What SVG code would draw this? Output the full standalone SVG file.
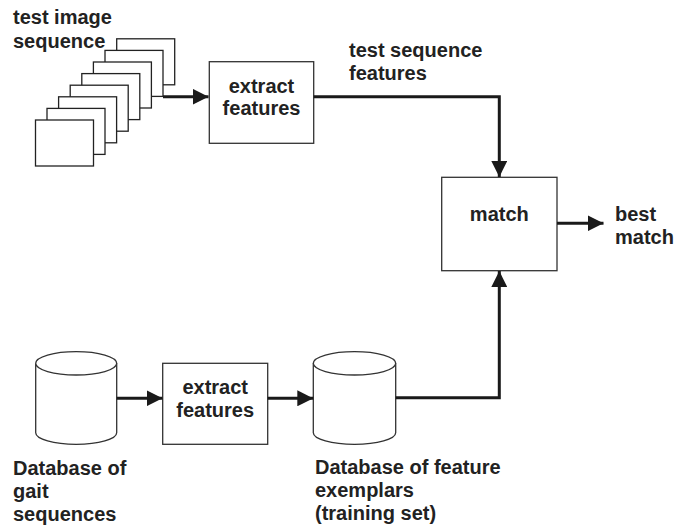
<svg xmlns="http://www.w3.org/2000/svg" width="677" height="528" viewBox="0 0 677 528">
<defs>
<style>
.box{fill:#fff;stroke:#333;stroke-width:1.3}
.frame{fill:#fff;stroke:#222;stroke-width:1.3}
.cyl{fill:#fff;stroke:#333;stroke-width:1.3}
.conn{fill:none;stroke:#1a1a1a;stroke-width:3}
.t{font-family:"Liberation Sans",Arial,sans-serif;font-weight:bold;font-size:20px;fill:#222}
.c{text-anchor:middle}
</style>
<marker id="ah" viewBox="0 0 16 16" refX="16" refY="8" markerWidth="16" markerHeight="16" markerUnits="userSpaceOnUse" orient="auto">
<path d="M0,0 L16,8 L0,16 Z" fill="#1a1a1a"/>
</marker>
</defs>
<rect width="677" height="528" fill="#fff"/>

<g id="test-image-sequence">
<rect class="frame" x="116.7" y="38.8" width="58" height="46"/>
<rect class="frame" x="105" y="50.4" width="58" height="46"/>
<rect class="frame" x="93.4" y="62" width="58" height="46"/>
<rect class="frame" x="81.8" y="73.6" width="58" height="46"/>
<rect class="frame" x="70.2" y="85.2" width="58" height="46"/>
<rect class="frame" x="58.6" y="96.8" width="58" height="46"/>
<rect class="frame" x="47" y="108.4" width="58" height="46"/>
<rect class="frame" x="35.5" y="120" width="58" height="46"/>
<text class="t" x="13" y="24">test image</text>
<text class="t" x="13" y="47.5">sequence</text>
</g>

<g id="extract-features-top">
<rect class="box" x="209.3" y="61.7" width="104.4" height="81.6"/>
<text class="t c" x="261.5" y="92.5">extract</text>
<text class="t c" x="261.5" y="115">features</text>
</g>

<g id="test-sequence-features-label">
<text class="t" x="349" y="56.5">test sequence</text>
<text class="t" x="349" y="80">features</text>
</g>

<g id="match">
<rect class="box" x="441.7" y="177.3" width="115.3" height="93.4"/>
<text class="t c" x="499.3" y="220.5">match</text>
</g>

<g id="best-match-label">
<text class="t" x="615" y="220.5">best</text>
<text class="t" x="615" y="243.5">match</text>
</g>

<g id="db-gait">
<path class="cyl" d="M35.7,363.3 L35.7,432.8 A40.5,11.5 0 0 0 116.7,432.8 L116.7,363.3"/>
<ellipse class="cyl" cx="76.2" cy="363.3" rx="40.5" ry="11.7"/>
<text class="t" x="13" y="475">Database of</text>
<text class="t" x="13" y="498">gait</text>
<text class="t" x="13" y="521">sequences</text>
</g>

<g id="extract-features-bottom">
<rect class="box" x="162.7" y="363.3" width="105" height="81"/>
<text class="t c" x="215.2" y="394">extract</text>
<text class="t c" x="215.2" y="416.7">features</text>
</g>

<g id="db-features">
<path class="cyl" d="M313.3,363.3 L313.3,432.8 A41.2,11.5 0 0 0 395.7,432.8 L395.7,363.3"/>
<ellipse class="cyl" cx="354.5" cy="363.3" rx="41.2" ry="11.7"/>
<text class="t" x="315" y="474">Database of feature</text>
<text class="t" x="315" y="497.3">exemplars</text>
<text class="t" x="315" y="520">(training set)</text>
</g>

<g id="connectors">
<path class="conn" d="M163,96.7 L208.5,96.7" marker-end="url(#ah)"/>
<path class="conn" d="M313.7,96.7 L499.3,96.7 L499.3,177" marker-end="url(#ah)"/>
<path class="conn" d="M557,223.3 L603.5,223.3" marker-end="url(#ah)"/>
<path class="conn" d="M116.7,398.3 L162.5,398.3" marker-end="url(#ah)"/>
<path class="conn" d="M267.7,398.3 L313.3,398.3" marker-end="url(#ah)"/>
<path class="conn" d="M395.7,397.7 L499.3,397.7 L499.3,271" marker-end="url(#ah)"/>
</g>
</svg>
